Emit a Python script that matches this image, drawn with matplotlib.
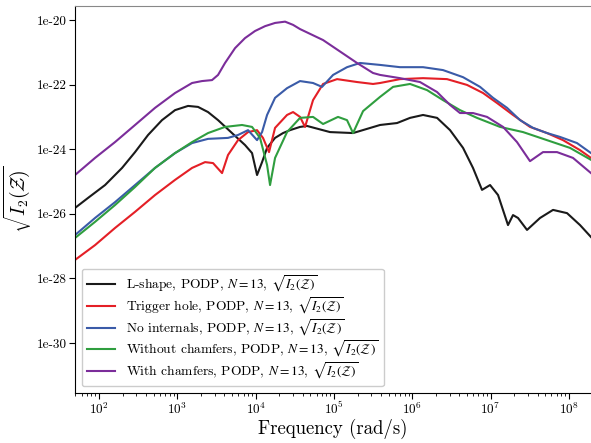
import numpy as np
import matplotlib
matplotlib.use('Agg')
import matplotlib.pyplot as plt
from matplotlib import ticker
from matplotlib.font_manager import FontProperties

plt.rcParams['font.family'] = 'cmr10'
plt.rcParams['mathtext.fontset'] = 'cm'
plt.rcParams['axes.formatter.use_mathtext'] = True

# valores, en log10 (frecuencia, sqrt(I2))
lshape_f = [1.693, 1.859, 2.077, 2.294, 2.460, 2.626, 2.804, 2.971, 3.137, 3.264, 3.392, 3.520,
            3.698, 3.864, 3.954, 4.018, 4.082, 4.146, 4.248, 4.350, 4.439, 4.567, 4.656, 4.950,
            5.244, 5.589, 5.806, 5.972, 6.138, 6.317, 6.483, 6.649, 6.776, 6.891, 6.994, 7.096,
            7.223, 7.287, 7.351, 7.466, 7.632, 7.798, 7.977, 8.143, 8.283]
lshape_v = [-25.82, -25.51, -25.11, -24.58, -24.09, -23.56, -23.10, -22.79, -22.66, -22.69, -22.85, -23.10,
            -23.50, -23.87, -24.12, -24.80, -24.40, -23.96, -23.65, -23.50, -23.41, -23.31, -23.28, -23.47,
            -23.50, -23.25, -23.19, -23.03, -22.94, -23.03, -23.41, -23.96, -24.58, -25.26, -25.11, -25.42,
            -26.35, -26.04, -26.13, -26.50, -26.13, -25.88, -25.98, -26.35, -26.72]

trigger_f = [1.693, 1.949, 2.204, 2.460, 2.715, 2.971, 3.188, 3.354, 3.456, 3.571, 3.647, 3.775,
             3.903, 4.018, 4.094, 4.171, 4.248, 4.401, 4.478, 4.567, 4.631, 4.733, 4.861, 5.040,
             5.295, 5.499, 5.589, 5.844, 6.138, 6.444, 6.700, 6.904, 7.083, 7.287, 7.504, 7.721,
             7.926, 8.143, 8.283]
trigger_v = [-27.43, -26.97, -26.44, -25.94, -25.42, -24.95, -24.58, -24.40, -24.43, -24.74, -24.18, -23.72,
             -23.47, -23.41, -23.65, -24.09, -23.34, -22.94, -22.85, -23.00, -23.31, -22.48, -21.98, -21.83,
             -21.92, -21.98, -21.95, -21.83, -21.80, -21.83, -22.01, -22.26, -22.57, -22.94, -23.31, -23.50,
             -23.72, -24.03, -24.27]

nointernals_f = [1.693, 1.949, 2.204, 2.460, 2.715, 2.971, 3.188, 3.392, 3.647, 3.775, 3.903, 4.018,
                 4.082, 4.146, 4.248, 4.401, 4.567, 4.733, 4.848, 4.989, 5.167, 5.333, 5.589, 5.844,
                 6.138, 6.393, 6.649, 6.866, 7.032, 7.211, 7.377, 7.543, 7.721, 7.887, 8.104, 8.283]
nointernals_v = [-26.66, -26.13, -25.64, -25.11, -24.58, -24.12, -23.81, -23.68, -23.65, -23.56, -23.41, -23.72,
                 -23.47, -22.94, -22.41, -22.11, -21.89, -21.95, -22.07, -21.70, -21.46, -21.33, -21.39, -21.46,
                 -21.46, -21.55, -21.77, -22.07, -22.41, -22.72, -23.10, -23.34, -23.50, -23.62, -23.81, -24.12]

nochamfer_f = [1.693, 1.949, 2.204, 2.460, 2.715, 2.971, 3.188, 3.392, 3.609, 3.826, 3.954, 4.056,
               4.146, 4.184, 4.248, 4.401, 4.567, 4.733, 4.861, 5.052, 5.167, 5.244, 5.372, 5.589,
               5.755, 5.972, 6.189, 6.393, 6.610, 6.827, 7.121, 7.415, 7.721, 8.015, 8.283]
nochamfer_v = [-26.75, -26.25, -25.73, -25.17, -24.58, -24.12, -23.78, -23.50, -23.31, -23.25, -23.31, -23.65,
               -24.49, -25.11, -24.27, -23.47, -23.03, -23.00, -23.22, -23.00, -23.10, -23.50, -22.82, -22.38,
               -22.07, -21.98, -22.17, -22.48, -22.79, -23.03, -23.31, -23.47, -23.72, -23.96, -24.33]

chamfer_f = [1.693, 1.949, 2.204, 2.460, 2.715, 2.971, 3.188, 3.315, 3.443, 3.520, 3.609, 3.737,
             3.864, 3.992, 4.120, 4.248, 4.376, 4.478, 4.567, 4.861, 5.295, 5.499, 5.589, 5.844,
             6.099, 6.317, 6.483, 6.610, 6.776, 6.955, 7.160, 7.338, 7.504, 7.670, 7.849, 8.053, 8.283]
chamfer_v = [-24.80, -24.27, -23.78, -23.25, -22.72, -22.26, -21.95, -21.89, -21.86, -21.70, -21.33, -20.87,
             -20.56, -20.34, -20.19, -20.09, -20.05, -20.15, -20.28, -20.62, -21.33, -21.64, -21.70, -21.80,
             -21.92, -22.23, -22.63, -22.88, -22.88, -23.00, -23.31, -23.78, -24.37, -24.09, -24.09, -24.27, -24.74]

etiquetas = ['L-shape', 'Trigger hole', 'No internals', 'Without chamfers', 'With chamfers']
colores = ['#1a1a1a', '#e41f26', '#3a5ba8', '#2f9e3f', '#7b2d9a']
series = [(lshape_f, lshape_v), (trigger_f, trigger_v), (nointernals_f, nointernals_v),
          (nochamfer_f, nochamfer_v), (chamfer_f, chamfer_v)]

fig = plt.figure(figsize=(5.91, 4.43), dpi=100)
ax = fig.add_axes([75 / 591, 50 / 443, 1 - 75 / 591, 387.5 / 443])

for nombre, color, (f, v) in zip(etiquetas, colores, series):
    ax.plot(10 ** np.array(f), 10 ** np.array(v), color=color, linewidth=1.5,
            label=nombre + r', PODP, $N=13$, $\sqrt{I_2(\mathcal{Z})}$')

ax.set_xscale('log')
ax.set_yscale('log')
ax.set_xlim(10 ** 1.693, 10 ** 8.283)
ax.set_ylim(10 ** -31.55, 10 ** -19.55)

ax.yaxis.set_major_locator(ticker.FixedLocator([1e-20, 1e-22, 1e-24, 1e-26, 1e-28, 1e-30]))
ax.yaxis.set_minor_locator(ticker.NullLocator())
ax.yaxis.set_major_formatter(ticker.FuncFormatter(lambda y, p: '1e-%d' % round(-np.log10(y))))
ax.xaxis.set_major_locator(ticker.FixedLocator([1e2, 1e3, 1e4, 1e5, 1e6, 1e7, 1e8]))
ax.xaxis.set_minor_locator(ticker.LogLocator(base=10, subs=np.arange(2, 10), numticks=12))
ax.xaxis.set_minor_formatter(ticker.NullFormatter())

ax.tick_params(axis='both', which='major', labelsize=9.5, length=4, direction='out', pad=2)
ax.tick_params(axis='x', which='minor', length=2.5, direction='out')

ax.spines['right'].set_visible(False)
ax.spines['top'].set_color('#888888')

ax.set_xlabel('Frequency (rad/s)', fontsize=13.5, labelpad=1)
ax.set_ylabel(r'$\sqrt{I_2(\mathcal{Z})}$', fontsize=14, labelpad=2)

fuente_leyenda = FontProperties(family='cmr10', size=9.7, math_fontfamily='stix')
leg = ax.legend(loc='lower left', prop=fuente_leyenda, framealpha=1, edgecolor='#cccccc',
                handlelength=2.1, labelspacing=0.08, borderaxespad=0.5, borderpad=0.4)

fig.savefig('out.png', dpi=100)
plt.close()
